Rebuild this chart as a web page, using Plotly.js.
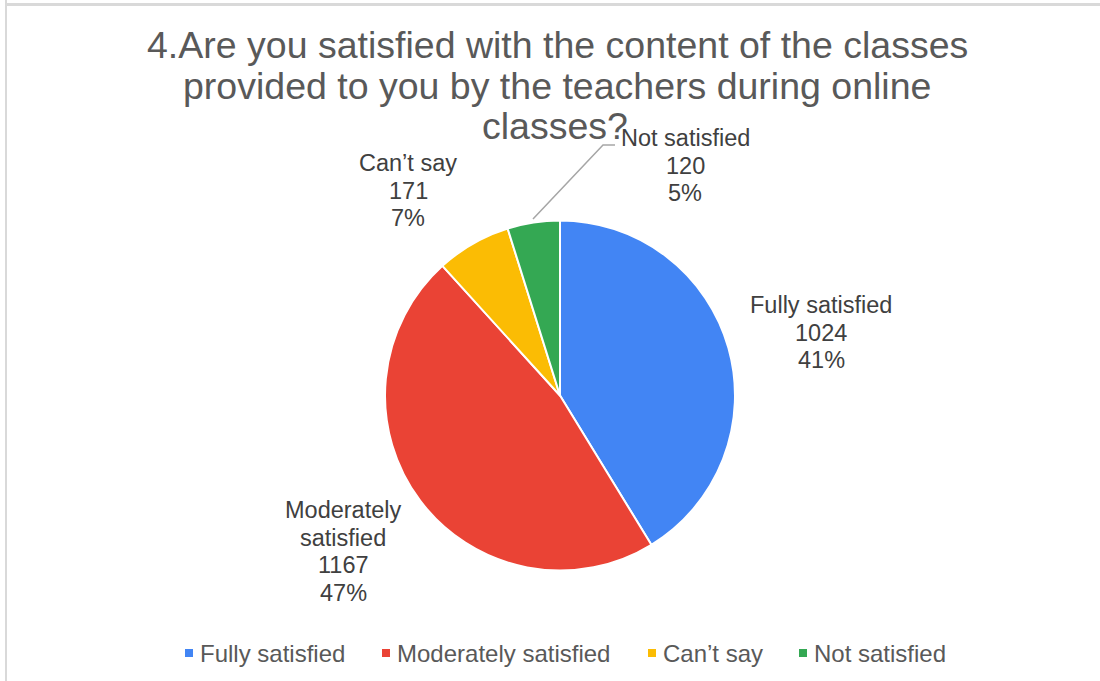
<!DOCTYPE html>
<html>
<head>
<meta charset="utf-8">
<script src="https://cdn.plot.ly/plotly-3.0.1.min.js"></script>
<style>
html,body{margin:0;padding:0;background:#fff;}
#chart{width:1100px;height:681px;}
</style>
</head>
<body>
<div id="chart"></div>
<script>
// ---- data ----
const categories = ["Fully satisfied", "Moderately satisfied", "Can\u2019t say", "Not satisfied"];
const labelLines = [["Fully satisfied"], ["Moderately", "satisfied"], ["Can\u2019t say"], ["Not satisfied"]];
const counts = [1024, 1167, 171, 120];
const colors = ["#4285F4", "#EA4335", "#FBBC04", "#34A853"];
const titleLines = ["4.Are you satisfied with the content of the classes",
                    "provided to you by the teachers during online",
                    "classes?"];

// ---- layout helpers ----
const W = 1100, H = 681;
const px = x => x / W;
const py = y => 1 - y / H;
const FONT = "Liberation Sans, Arial, sans-serif";

const total = counts.reduce((a, b) => a + b, 0);
const pcts = counts.map(v => Math.round(v / total * 100) + "%");

// label block positions (center x, first line center y)
const labelPos = [[821, 305], [343, 510], [408, 163], [685, 138]];
const lineStep = 27.7;

const annotations = [];
const shapes = [];
// title lines
const titleY = [45, 86, 126];
const titleX = [557, 557, 555];
titleLines.forEach((t, i) => {
  annotations.push({text: t, x: px(titleX[i]), y: py(titleY[i]), xref: "paper", yref: "paper",
    xanchor: "center", yanchor: "middle", showarrow: false,
    font: {family: FONT, size: 37.5, color: "#595959"}});
});
// data labels
categories.forEach((c, i) => {
  const lines = labelLines[i].concat([String(counts[i]), pcts[i]]);
  lines.forEach((ln, j) => {
    annotations.push({text: ln, x: px(labelPos[i][0]), y: py(labelPos[i][1] + j * lineStep),
      xref: "paper", yref: "paper", xanchor: "center", yanchor: "middle", showarrow: false,
      font: {family: FONT, size: 23.5, color: "#404040"}});
  });
});

// legend (swatch + text per category)
const legendTextX = [200, 397, 663, 814];
const legendY = 653;
categories.forEach((c, i) => {
  shapes.push({type: "rect", xref: "paper", yref: "paper",
    x0: px(legendTextX[i] - 15), x1: px(legendTextX[i] - 7),
    y0: py(legendY + 4), y1: py(legendY - 4),
    fillcolor: colors[i], line: {width: 0}, layer: "above"});
  annotations.push({text: c, x: px(legendTextX[i]), y: py(legendY), xref: "paper", yref: "paper",
    xanchor: "left", yanchor: "middle", showarrow: false, xshift: -2,
    font: {family: FONT, size: 24, color: "#595959"}});
});

// frame lines
shapes.push({type: "rect", xref: "paper", yref: "paper", x0: px(5), x1: px(1100), y0: py(3), y1: py(6),
   fillcolor: "#d9d9d9", line: {width: 0}, layer: "above"});
shapes.push({type: "rect", xref: "paper", yref: "paper", x0: px(5), x1: px(7), y0: py(0), y1: py(681),
   fillcolor: "#d9d9d9", line: {width: 0}, layer: "above"});
// leader line for Not satisfied
shapes.push({type: "path", xref: "paper", yref: "paper",
   path: `M ${px(533)} ${py(219)} L ${px(603)} ${py(145)} L ${px(615)} ${py(145)}`,
   line: {color: "#a6a6a6", width: 1.5}, layer: "above"});

const trace = {
  type: "pie",
  labels: categories,
  values: counts,
  sort: false,
  direction: "clockwise",
  rotation: 0,
  marker: {colors: colors, line: {color: "#ffffff", width: 2}},
  textinfo: "none",
  hoverinfo: "label+value+percent",
  showlegend: false,
  domain: {x: [px(385), px(735)], y: [py(571), py(220)]}
};

const layout = {
  width: W, height: H,
  margin: {l: 0, r: 0, t: 0, b: 0},
  paper_bgcolor: "#ffffff",
  showlegend: false,
  annotations: annotations,
  shapes: shapes
};

Plotly.newPlot("chart", [trace], layout, {displayModeBar: false, staticPlot: true});
</script>
</body>
</html>
